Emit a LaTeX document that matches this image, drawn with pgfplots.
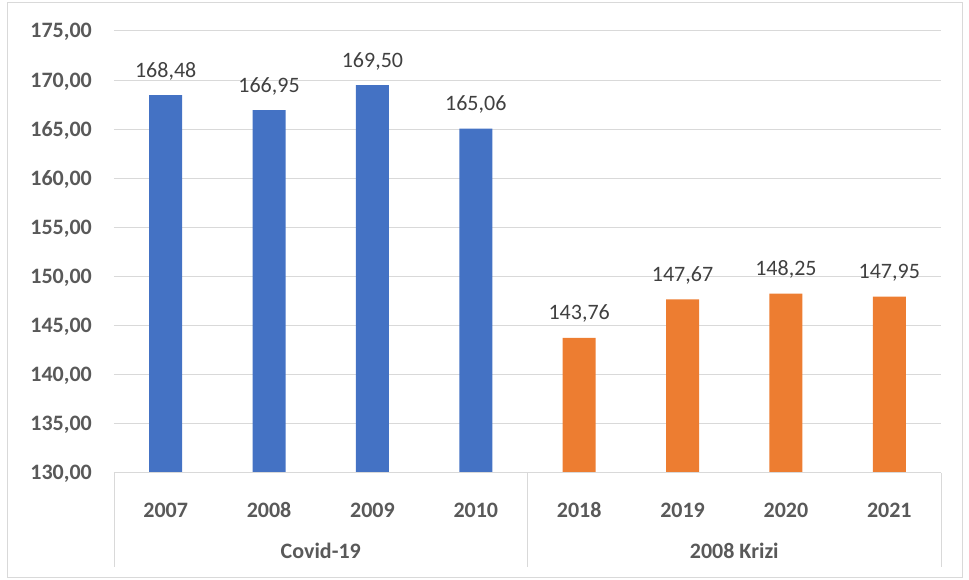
\documentclass[border=0pt]{standalone}
\usepackage{pgfplots}
\pgfplotsset{compat=1.18}
\usepackage{fontspec}
\setmainfont{Carlito}
\definecolor{cblue}{HTML}{4472C4}
\definecolor{corange}{HTML}{ED7D31}
\definecolor{gridc}{HTML}{D9D9D9}
\definecolor{lblc}{HTML}{404040}
\definecolor{tickc}{HTML}{595959}
\begin{document}
\fontsize{22}{26}\selectfont
\begin{tikzpicture}[x=1pt,y=1pt]
\useasboundingbox (0,0) rectangle (969,580);
\draw[gridc, line width=1pt] (7,2.5) rectangle (962,577);
\begin{axis}[at={(114pt,107pt)}, anchor=south west, scale only axis,
  width=827pt, height=442pt,
  ymin=130, ymax=175, ytick={130,135,...,175},
  yticklabels={{130,00},{135,00},{140,00},{145,00},{150,00},{155,00},{160,00},{165,00},{170,00},{175,00}},
  xmin=-0.5, xmax=7.5, xtick={0,...,7},
  xticklabels={2007,2008,2009,2010,2018,2019,2020,2021},
  axis line style={draw=none}, tick style={draw=none},
  ymajorgrids, grid style={gridc, line width=1pt},
  yticklabel style={font=\fontsize{22}{26}\selectfont\bfseries, text=tickc, inner sep=0pt, anchor=base east, xshift=-22pt, yshift=-7pt},
  xticklabel style={font=\fontsize{22}{26}\selectfont\bfseries, text=tickc, inner sep=0pt, anchor=base, yshift=-40pt},
  ybar, bar width=33pt, clip mode=individual,
  nodes near coords={\pgfmathprintnumber[fixed,fixed zerofill,precision=2,use comma,assume math mode=true]{\pgfplotspointmeta}},
  every node near coord/.append style={font=\fontsize{22}{26}\selectfont, text=lblc, inner sep=0pt, anchor=base, yshift=18pt},
]
\addplot[fill=cblue, draw=none, bar shift=0pt] coordinates {(0,168.48)(1,166.95)(2,169.50)(3,165.06)};
\addplot[fill=corange, draw=none, bar shift=0pt] coordinates {(4,143.76)(5,147.67)(6,148.25)(7,147.95)};
\coordinate (L) at (axis cs:-0.5,130);
\coordinate (M) at (axis cs:3.5,130);
\coordinate (R) at (axis cs:7.5,130);
\coordinate (G1) at (axis cs:1.5,130);
\coordinate (G2) at (axis cs:5.5,130);
\end{axis}
\draw[gridc, line width=1pt] (L) -- (R);
\draw[gridc, line width=1pt] (L) -- ++(0,-94);
\draw[gridc, line width=1pt] (M) -- ++(0,-94);
\draw[gridc, line width=1pt] (R) -- ++(0,-94);
\node[anchor=base, inner sep=0pt, font=\fontsize{22}{26}\selectfont\bfseries, text=tickc] at ([yshift=-86pt]G1) {Covid-19};
\node[anchor=base, inner sep=0pt, font=\fontsize{22}{26}\selectfont\bfseries, text=tickc] at ([yshift=-86pt]G2) {2008 Krizi};
\end{tikzpicture}
\end{document}
